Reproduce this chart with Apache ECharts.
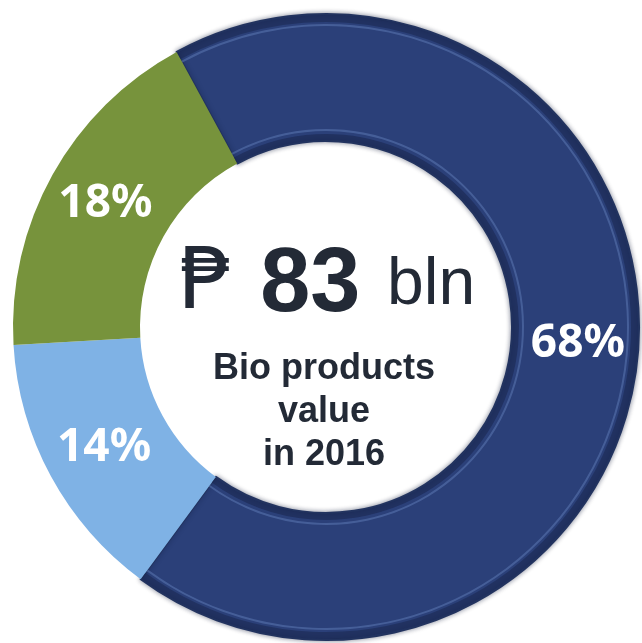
<!DOCTYPE html>
<html>
<head>
<meta charset="utf-8">
<script src="https://cdn.jsdelivr.net/npm/echarts@6/dist/echarts.min.js"></script>
<style>
    html, body { margin: 0; padding: 0; background: #fff; }
    #chart { width: 642px; height: 643px; }
</style>
</head>
<body>
<div id="chart"></div>
<script>
// segment data, clockwise from the top-left
const categories = ['Main', 'Other', 'Secondary'];
const shares = [68, 14, 18];
const colors = ['#2b4079', '#7fb2e5', '#77933c'];

// centre text
const currency = '₱';
const total = '83';
const unit = 'bln';
const caption = ['Bio products', 'value', 'in 2016'];

const CENTER = [326, 327];
const R_IN = 186;
const R_OUT = 313;
const TEXT_COLOR = '#232a36';

const chart = echarts.init(document.getElementById('chart'));

const pieData = categories.map((name, i) => ({
    name: name,
    value: shares[i],
    itemStyle: {
        color: colors[i],
        borderColor: i === 0 ? '#22335f' : colors[i],
        borderWidth: i === 0 ? 2 : 0,
        shadowBlur: i === 0 ? 5 : 0,
        shadowColor: 'rgba(10, 20, 50, 0.45)',
    },
}));

// thin bevel lines on the big slice only (same data, other slices hidden)
function bevelRing(radius, color) {
    return {
        type: 'pie',
        center: CENTER,
        radius: radius,
        startAngle: 118.5,
        silent: true,
        z: 3,
        label: { show: false },
        labelLine: { show: false },
        emphasis: { disabled: true },
        data: categories.map((name, i) => ({
            name: name,
            value: shares[i],
            itemStyle: { color: i === 0 ? color : 'transparent', borderWidth: 0 },
        })),
    };
}

const option = {
    backgroundColor: '#ffffff',
    animation: false,
    series: [
        {
            type: 'pie',
            center: CENTER,
            radius: [R_IN, R_OUT],
            startAngle: 118.5,
            clockwise: true,
            silent: true,
            z: 2,
            label: {
                show: true,
                position: 'inside',
                formatter: '{c}%',
                color: '#ffffff',
                fontFamily: 'Noto Sans',
                fontWeight: 'bold',
                fontSize: 46,
            },
            labelLine: { show: false },
            emphasis: { disabled: true },
            data: pieData,
        },
        bevelRing([R_OUT - 8, R_OUT - 1], 'rgba(22, 33, 68, 0.45)'),
        bevelRing([R_OUT - 12, R_OUT - 10], 'rgba(110, 140, 200, 0.4)'),
        bevelRing([R_IN + 1, R_IN + 7], 'rgba(22, 33, 68, 0.45)'),
        bevelRing([R_IN + 10, R_IN + 12], 'rgba(110, 140, 200, 0.4)'),
    ],
    graphic: [
        {
            type: 'text',
            x: 327,
            y: 286,
            style: {
                text: `{cur|${currency}} {num|${total}} {unit|${unit}}`,
                align: 'center',
                verticalAlign: 'middle',
                fontFamily: 'Liberation Sans',
                fontSize: 96,
                fill: TEXT_COLOR,
                rich: {
                    cur: { fontFamily: 'DejaVu Sans', fontSize: 86, fill: TEXT_COLOR },
                    num: { fontFamily: 'Liberation Sans', fontSize: 90, fontWeight: 'bold', fill: TEXT_COLOR },
                    unit: { fontFamily: 'Liberation Sans', fontSize: 66, fill: TEXT_COLOR },
                },
            },
        },
        {
            type: 'text',
            x: 324,
            y: 348,
            style: {
                text: caption.join('\n'),
                align: 'center',
                fontFamily: 'Liberation Sans',
                fontWeight: 'bold',
                fontSize: 36,
                lineHeight: 43,
                fill: TEXT_COLOR,
            },
        },
    ],
};

chart.setOption(option);
</script>
</body>
</html>
